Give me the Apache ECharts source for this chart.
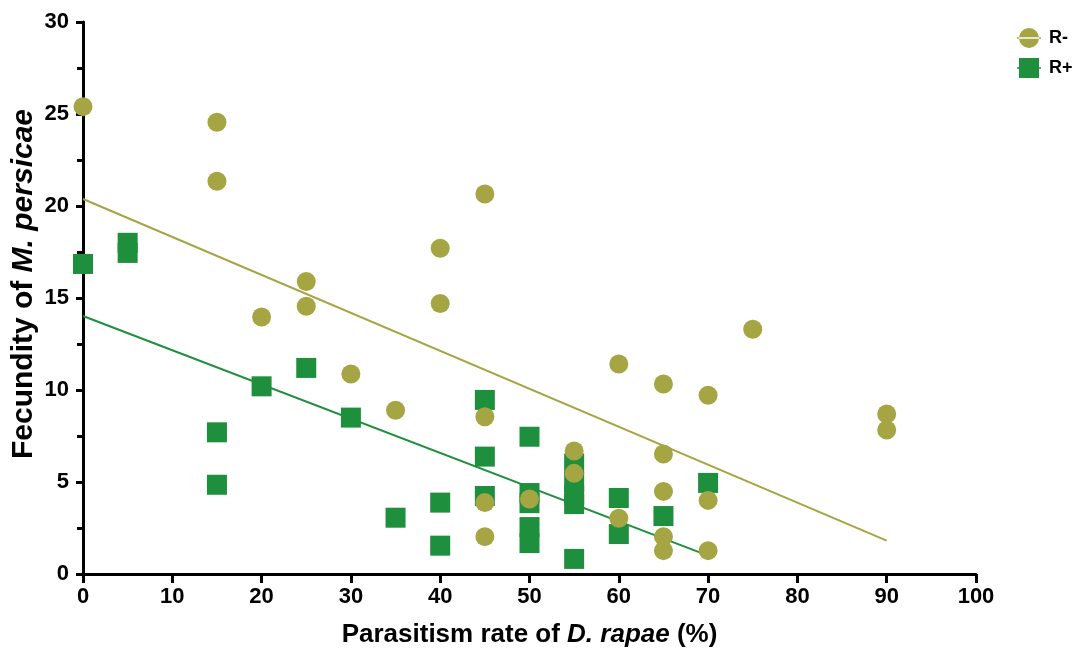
<!DOCTYPE html>
<html>
<head>
<meta charset="utf-8">
<script src="https://cdn.jsdelivr.net/npm/echarts@6/dist/echarts.min.js"></script>
<style>
  html, body { margin: 0; padding: 0; background: #fff; }
  #chart { width: 1079px; height: 649px; }
</style>
</head>
<body>
<div id="chart"></div>
<script>
// R- (circles): [parasitism %, fecundity]
const rMinus = [
  [0, 25.4], [15, 24.55], [15, 21.35], [20, 13.97], [25, 15.9], [25, 14.55],
  [30, 10.87], [35, 8.9], [40, 17.7], [40, 14.7], [45, 20.65], [45, 8.55],
  [45, 3.88], [45, 2.03], [50, 4.08], [55, 6.68], [55, 5.47], [60, 11.41],
  [60, 3.03], [65, 10.33], [65, 6.52], [65, 4.49], [65, 2.03], [65, 1.27],
  [70, 9.71], [70, 4.0], [70, 1.27], [75, 13.3], [90, 8.7], [90, 7.83],
];
// R+ (squares)
const rPlus = [
  [0, 16.85], [5, 18.0], [5, 17.45], [15, 7.7], [15, 4.85], [20, 10.2],
  [25, 11.2], [30, 8.5], [35, 3.06], [40, 3.88], [40, 1.54], [45, 9.46],
  [45, 6.38], [45, 4.24], [50, 7.46], [50, 4.4], [50, 3.85], [50, 2.55],
  [50, 1.68], [55, 6.0], [55, 5.0], [55, 4.3], [55, 3.8], [55, 0.82],
  [60, 4.13], [60, 2.17], [65, 3.15], [70, 4.95],
];
// fitted lines (end points)
const fitMinus = [[0, 20.38], [90, 1.81]];
const fitPlus = [[0, 14.02], [70, 1.0]];

const xTicks = { min: 0, max: 100, interval: 10 };
const yTicks = { min: 0, max: 30, interval: 5 };

const olive = '#a5a544';
const green = '#1e8f3c';
const font = 'Liberation Sans, Arial, sans-serif';

// legend marks with the little line stub through them
const circleIcon = 'path://M2,10a10,10 0 1,0 20,0a10,10 0 1,0 -20,0Z M0,9.2h24v1.6h-24Z';
const squareIcon = 'path://M2,0h20v20h-20Z M0,9.2h24v1.6h-24Z';

const chart = echarts.init(document.getElementById('chart'));
chart.setOption({
  animation: false,
  textStyle: { fontFamily: font },
  grid: { left: 83, right: 103, top: 22, bottom: 75, outerBoundsMode: 'none' },
  legend: {
    orient: 'vertical',
    left: 1012,
    top: 23,
    itemWidth: 24,
    itemHeight: 20,
    itemGap: 10,
    data: [
      { name: 'R-', icon: circleIcon },
      { name: 'R+', icon: squareIcon },
    ],
    textStyle: { fontSize: 18, fontWeight: 'bold', color: '#000', fontFamily: font, padding: [0, 0, 0, 3] },
  },
  xAxis: {
    type: 'value',
    ...xTicks,
    name: '{n|Parasitism rate of }{i|D. rapae}{n| (%)}',
    nameLocation: 'middle',
    nameGap: 48,
    nameMoveOverlap: false,
    nameTextStyle: {
      rich: {
        n: { fontSize: 26, fontWeight: 'bold', color: '#000', fontFamily: font },
        i: { fontSize: 26, fontWeight: 'bold', fontStyle: 'italic', color: '#000', fontFamily: font },
      },
    },
    axisLine: { onZero: false, lineStyle: { color: '#000', width: 3 } },
    axisTick: { length: 9, lineStyle: { color: '#000', width: 3 } },
    axisLabel: { fontSize: 22, fontWeight: 'bold', color: '#000', margin: 12 },
    splitLine: { show: false },
  },
  yAxis: {
    type: 'value',
    ...yTicks,
    name: '{n|Fecundity of }{i|M. persicae}',
    nameLocation: 'middle',
    nameGap: 44,
    nameMoveOverlap: false,
    nameTextStyle: {
      padding: [0, 0, 0, 28],
      rich: {
        n: { fontSize: 30, fontWeight: 'bold', color: '#000', fontFamily: font },
        i: { fontSize: 30, fontWeight: 'bold', fontStyle: 'italic', color: '#000', fontFamily: font },
      },
    },
    axisLine: { show: true, onZero: false, lineStyle: { color: '#000', width: 3 } },
    axisTick: { show: true, length: 7, lineStyle: { color: '#000', width: 3 } },
    minorTick: { show: true, splitNumber: 2, length: 6, lineStyle: { color: '#000', width: 3 } },
    axisLabel: { fontSize: 22, fontWeight: 'bold', color: '#000', margin: 14 },
    splitLine: { show: false },
  },
  series: [
    {
      name: 'fit R-',
      type: 'line',
      data: fitMinus,
      symbol: 'none',
      lineStyle: { color: olive, width: 2 },
      z: 1,
    },
    {
      name: 'fit R+',
      type: 'line',
      data: fitPlus,
      symbol: 'none',
      lineStyle: { color: green, width: 2 },
      z: 1,
    },
    {
      name: 'R+',
      type: 'scatter',
      data: rPlus,
      symbol: 'rect',
      symbolSize: 20,
      itemStyle: { color: green, opacity: 1 },
      z: 2,
    },
    {
      name: 'R-',
      type: 'scatter',
      data: rMinus,
      symbol: 'circle',
      symbolSize: 19,
      itemStyle: { color: olive, opacity: 1 },
      z: 3,
    },
  ],
});
</script>
</body>
</html>
